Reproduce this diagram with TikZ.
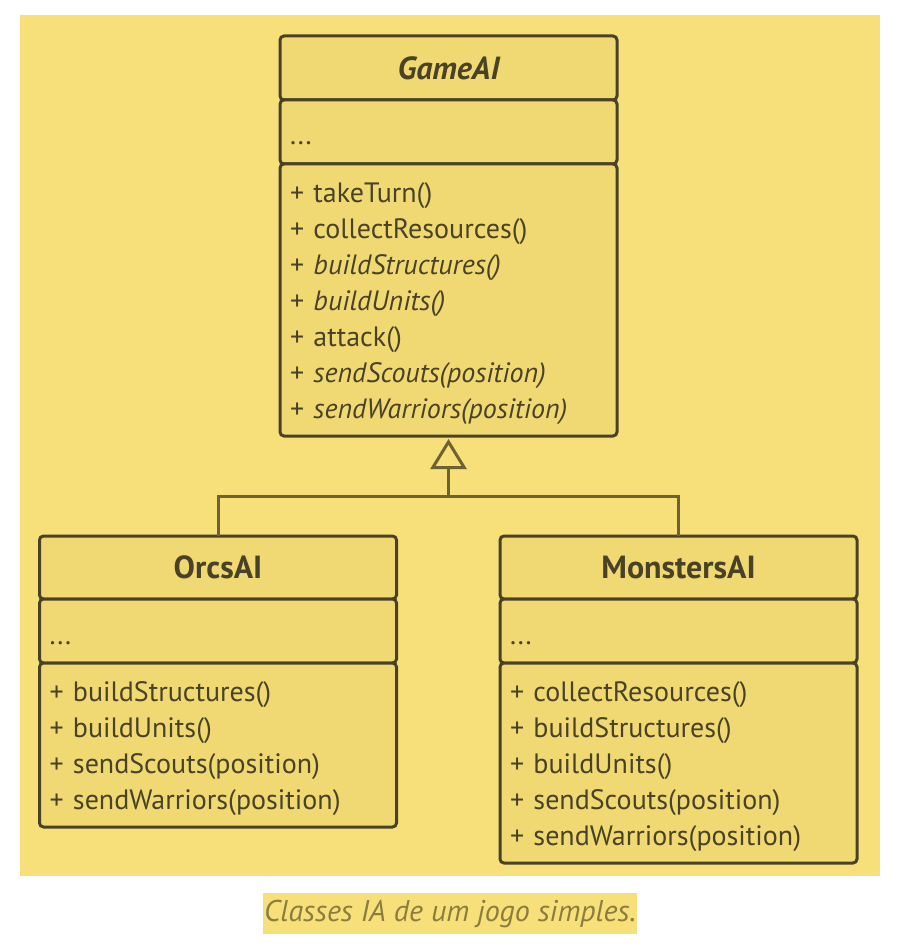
\documentclass[tikz,border=0pt]{standalone}
\usepackage{fontspec}
\setmainfont{PT Sans}
\usetikzlibrary{positioning,arrows.meta}
\definecolor{bgyellow}{RGB}{247,224,121}
\definecolor{boxfill}{RGB}{240,217,114}
\definecolor{boxline}{RGB}{74,66,38}
\definecolor{genline}{RGB}{110,97,52}
\definecolor{captext}{RGB}{138,125,62}
\tikzset{
  comp/.style={draw=boxline, fill=boxfill, line width=3pt, rounded corners=4pt,
    outer sep=0pt, inner ysep=0pt, inner xsep=10pt, text=boxline},
  head/.style={comp, minimum height=64pt, font=\fontsize{32}{36}\selectfont\bfseries},
  attr/.style={comp, minimum height=64pt, align=left, text height=26pt, text depth=0pt,
    font=\fontsize{28}{36}\selectfont},
  meth/.style={comp, align=left, font=\fontsize{28}{36}\selectfont,
    execute at begin node=\rule{0pt}{28pt}},
  inherit/.style={draw=genline, line width=3pt},
}
\begin{document}
\begin{tikzpicture}[x=1pt,y=1pt]
        \useasboundingbox (0,0) rectangle (908,-952);
        \fill[bgyellow] (20,-15) rectangle (880,-876);
        \node[head, minimum width=337pt] (gameHead) at (448.5,-68) {\itshape GameAI};
        \node[attr, text width=317pt, below=0pt of gameHead] (gameAttr) {...};
        \node[meth, text width=317pt, minimum height=272pt, below=0pt of gameAttr] (gameMeth)
            {+ takeTurn()\\+ collectResources()\\+ \textit{buildStructures()}\\+ \textit{buildUnits()}\\
             + attack()\\+ \textit{sendScouts(position)}\\+ \textit{sendWarriors(position)}};
        \node[head, minimum width=357pt, minimum height=63pt] (orcsHead) at (218,-567.5) {OrcsAI};
        \node[attr, text width=337pt, below=0pt of orcsHead] (orcsAttr) {...};
        \node[meth, text width=337pt, minimum height=164pt, below=0pt of orcsAttr] (orcsMeth)
            {+ buildStructures()\\+ buildUnits()\\+ sendScouts(position)\\+ sendWarriors(position)};
        \node[head, minimum width=357pt, minimum height=63pt] (monsHead) at (678.5,-567.5) {MonstersAI};
        \node[attr, text width=337pt, below=0pt of monsHead] (monsAttr) {...};
        \node[meth, text width=337pt, minimum height=200pt, below=0pt of monsAttr] (monsMeth)
            {+ collectResources()\\+ buildStructures()\\+ buildUnits()\\+ sendScouts(position)\\+ sendWarriors(position)};
        \coordinate (jn) at (448.5,-496);
        \draw[inherit] (orcsHead.north) |- (jn) -| (monsHead.north);
        \draw[inherit, -{Triangle[open, fill=bgyellow, length=30pt, width=36pt]}, shorten >=3pt] (jn) -- (gameMeth.south);
        \node[fill=bgyellow, text=captext, font=\fontsize{30}{34}\selectfont\itshape,
            minimum height=41pt, inner xsep=1pt] (caption) at (450,-913.5) {Classes IA de um jogo simples.};
\end{tikzpicture}
\end{document}
